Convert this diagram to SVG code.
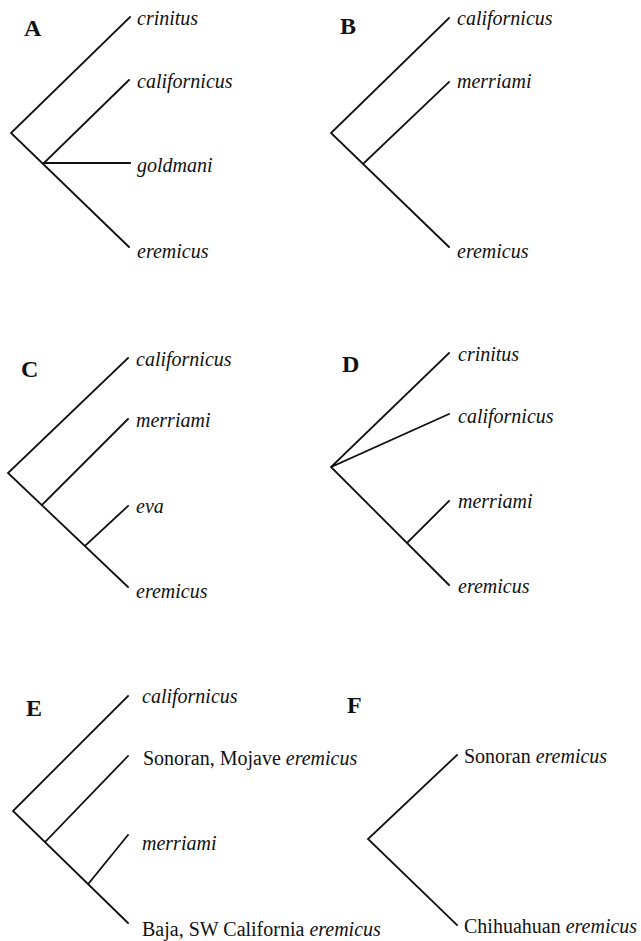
<svg xmlns="http://www.w3.org/2000/svg" width="641" height="941" viewBox="0 0 641 941">
  <style>
    .br { fill: none; stroke: #111; stroke-width: 1.8; stroke-linecap: square; }
    .tx { font-family: "Liberation Serif", "Times New Roman", serif; font-size: 20px; fill: #111; }
    .it { font-style: italic; }
    .pl { font-family: "Liberation Serif", "Times New Roman", serif; font-size: 24px; font-weight: bold; fill: #111; }
  </style>
  <rect width="641" height="941" fill="#fff"/>

  <!-- branches of all six trees -->
  <g id="connectors">
    <!-- A -->
    <path class="br" d="M130,17 L11,133 L129,247 M44,163 L129,80 M44,163 L130,163"/>
    <!-- B -->
    <path class="br" d="M449,18 L331,133 L449,247 M363,164 L449,82"/>
    <!-- C -->
    <path class="br" d="M128,358 L8,473 L128,587 M42,505 L128,419 M86,545 L128,506"/>
    <!-- D -->
    <path class="br" d="M449,353 L331,467 L449,585 M331,467 L449,414 M407,543 L449,501"/>
    <!-- E -->
    <path class="br" d="M128,696 L13,811 L128,923 M46,841 L128,756 M89,883 L128,835"/>
    <!-- F -->
    <path class="br" d="M457,755 L368,839 L457,925"/>
  </g>

  <g id="treeA">
    <text class="pl" x="24" y="36">A</text>
    <text class="tx it" x="137" y="25">crinitus</text>
    <text class="tx it" x="137" y="88">californicus</text>
    <text class="tx it" x="137" y="172">goldmani</text>
    <text class="tx it" x="137" y="258">eremicus</text>
  </g>

  <g id="treeB">
    <text class="pl" x="340" y="34">B</text>
    <text class="tx it" x="457" y="25">californicus</text>
    <text class="tx it" x="457" y="88">merriami</text>
    <text class="tx it" x="457" y="258">eremicus</text>
  </g>

  <g id="treeC">
    <text class="pl" x="21" y="377">C</text>
    <text class="tx it" x="136" y="366">californicus</text>
    <text class="tx it" x="136" y="427">merriami</text>
    <text class="tx it" x="136" y="513">eva</text>
    <text class="tx it" x="136" y="598">eremicus</text>
  </g>

  <g id="treeD">
    <text class="pl" x="342" y="372">D</text>
    <text class="tx it" x="458" y="361">crinitus</text>
    <text class="tx it" x="458" y="423">californicus</text>
    <text class="tx it" x="458" y="508">merriami</text>
    <text class="tx it" x="458" y="593">eremicus</text>
  </g>

  <g id="treeE">
    <text class="pl" x="26" y="716">E</text>
    <text class="tx it" x="142" y="703">californicus</text>
    <text class="tx" x="143" y="765">Sonoran, Mojave <tspan class="it">eremicus</tspan></text>
    <text class="tx it" x="142" y="850">merriami</text>
    <text class="tx" x="142" y="936">Baja, SW California <tspan class="it">eremicus</tspan></text>
  </g>

  <g id="treeF">
    <text class="pl" x="347" y="713">F</text>
    <text class="tx" x="464" y="763">Sonoran <tspan class="it">eremicus</tspan></text>
    <text class="tx" x="464" y="933">Chihuahuan <tspan class="it">eremicus</tspan></text>
  </g>
</svg>
